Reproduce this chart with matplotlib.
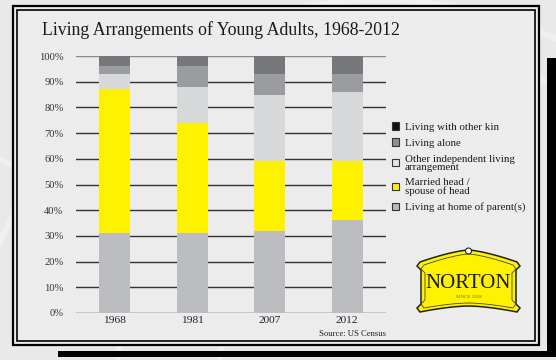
import numpy as np
import matplotlib
matplotlib.use("Agg")
import matplotlib.pyplot as plt
from matplotlib.patches import Rectangle, Polygon, Patch, Arc

# Data: share of young adults by living arrangement (%)
years = ["1968", "1981", "2007", "2012"]
parents = [31, 31, 32, 36]
married = [56, 43, 27, 23]
other_indep = [6, 14, 26, 27]
alone = [3, 8, 8, 7]
other_kin = [4, 4, 7, 7]

series_labels = [
    "Living with other kin",
    "Living alone",
    "Other independent living\narrangement",
    "Married head /\nspouse of head",
    "Living at home of parent(s)",
]
yticks = [0, 10, 20, 30, 40, 50, 60, 70, 80, 90, 100]

W, H = 556, 360
fig = plt.figure(figsize=(W / 100, H / 100), dpi=100)
fig.patch.set_facecolor("#e9e9e9")
SERIF = ["Liberation Serif", "DejaVu Serif"]


def fx(x):
    return x / W


def fy(y):
    return 1 - y / H


def rect(x0, y0, x1, y1, **kw):
    fig.patches.append(Rectangle((fx(x0), fy(y1)), fx(x1) - fx(x0), fy(y0) - fy(y1),
                                 transform=fig.transFigure, **kw))


# background decoration: faint light arcs
bg = fig.add_axes([0, 0, 1, 1], zorder=-10)
bg.set_xlim(0, W)
bg.set_ylim(H, 0)
bg.axis("off")
for cx, cy, r, a in [(380, 420, 420, 0.35), (520, 380, 300, 0.3), (-60, 330, 180, 0.35)]:
    bg.add_patch(Arc((cx, cy), 2 * r, 2 * r, color="white", lw=4, alpha=a))

# drop shadow bars and panel
rect(547, 58, 556, 357, facecolor="black", edgecolor="none", zorder=0)
rect(58, 351, 556, 357, facecolor="black", edgecolor="none", zorder=0)
rect(13, 6, 539, 345, facecolor="#ececec", edgecolor="black", lw=1.6, zorder=1)
rect(17, 10, 535, 341, facecolor="none", edgecolor="black", lw=1.2, zorder=2)

fig.text(fx(42), fy(30), "Living Arrangements of Young Adults, 1968-2012",
         family=SERIF, fontsize=12.8, color="#1a1a1a", va="center", ha="left", zorder=5)

ax = fig.add_axes([fx(76), fy(313), fx(386) - fx(76), fy(56) - fy(313)], zorder=3)
ax.patch.set_alpha(0)
x = np.arange(len(years))
bw = 0.4
c_parents, c_married, c_other, c_alone, c_kin = "#bcbdc0", "#fff200", "#d7d8da", "#9b9c9f", "#77787c"
b0 = np.zeros(len(years))
for vals, col in [(parents, c_parents), (married, c_married), (other_indep, c_other),
                  (alone, c_alone), (other_kin, c_kin)]:
    ax.bar(x, vals, bw, bottom=b0, color=col, edgecolor="none", zorder=3)
    b0 = b0 + np.array(vals)

ax.set_xlim(-0.5, 3.5)
ax.set_ylim(0, 100)
for t in yticks:
    ax.axhline(t, color="#8a8a8a" if t == 100 else "#333333", lw=1.0, zorder=1)
for s in ax.spines.values():
    s.set_visible(False)
ax.set_yticks(yticks)
ax.set_yticklabels([f"{t}%" for t in yticks], family=SERIF, fontsize=7.6, color="#333333")
ax.tick_params(axis="y", length=0, pad=9)
ax.set_xticks(x)
ax.set_xticklabels(years, family=SERIF, fontsize=8.2, color="#222222")
ax.tick_params(axis="x", length=0, pad=2)

fig.text(fx(386), fy(334), "Source: US Census", family=SERIF, fontsize=6.2,
         color="#222222", ha="right", va="center", zorder=5)

# legend
leg_faces = ["#111111", "#8e8f92", "#e4e4e4", c_married, "#b8b9bc"]
handles = [Patch(facecolor=c, edgecolor="#333333", lw=0.8) for c in leg_faces]
leg = fig.legend(handles, series_labels, loc="upper left",
                 bbox_to_anchor=(fx(388), fy(118)), frameon=False,
                 prop={"family": SERIF, "size": 7.8}, handlelength=0.65, handleheight=0.65,
                 handletextpad=0.5, labelspacing=0.62, borderaxespad=0)
for t in leg.get_texts():
    t.set_linespacing(0.85)
    t.set_color("#1a1a1a")

# sign logo
lg = fig.add_axes([0, 0, 1, 1], zorder=6)
lg.set_xlim(0, W)
lg.set_ylim(H, 0)
lg.axis("off")


def sign_outline(x0, x1, ytop_c, ytop_e, ybot_c, ybot_e):
    xs_top = np.linspace(x0, x1, 60)
    cx = (x0 + x1) / 2
    hw = (x1 - x0) / 2
    u = (xs_top - cx) / hw
    top = ytop_c + (ytop_e - ytop_c) * np.abs(u) ** 1.4
    bot = ybot_c + (ybot_e - ybot_c) * np.abs(u) ** 1.6
    pts = [(x0, ytop_e)] + list(zip(xs_top, top)) + [(x1, ytop_e)]
    pts += [(x1 + 3, ytop_e + 4), (x1 - 1, ytop_e + 8), (x1 - 1, ybot_e - 8),
            (x1 + 3, ybot_e - 4), (x1, ybot_e)]
    pts += list(zip(xs_top[::-1], bot[::-1]))
    pts += [(x0, ybot_e), (x0 - 3, ybot_e - 4), (x0 + 1, ybot_e - 8), (x0 + 1, ytop_e + 8),
            (x0 - 3, ytop_e + 4)]
    return pts


lg.add_patch(Polygon(sign_outline(420, 517, 250, 262, 306, 312), closed=True,
                     facecolor="#fff200", edgecolor="#222222", lw=1.1))
lg.add_patch(Polygon(sign_outline(424, 513, 254, 265, 303, 308), closed=True,
                     facecolor="none", edgecolor="#444444", lw=0.6))
lg.add_patch(plt.Circle((468.5, 251), 3.0, facecolor="white", edgecolor="#222222", lw=0.8))
lg.text(468.5, 283, "NORTON", family=SERIF, fontsize=15, ha="center", va="center",
        color="#1a1a1a")
lg.text(468.5, 297, "SINCE 1928", family=SERIF, fontsize=3.6, ha="center", va="center",
        color="#7a7000")

fig.savefig("out.png", dpi=100, facecolor=fig.get_facecolor())
